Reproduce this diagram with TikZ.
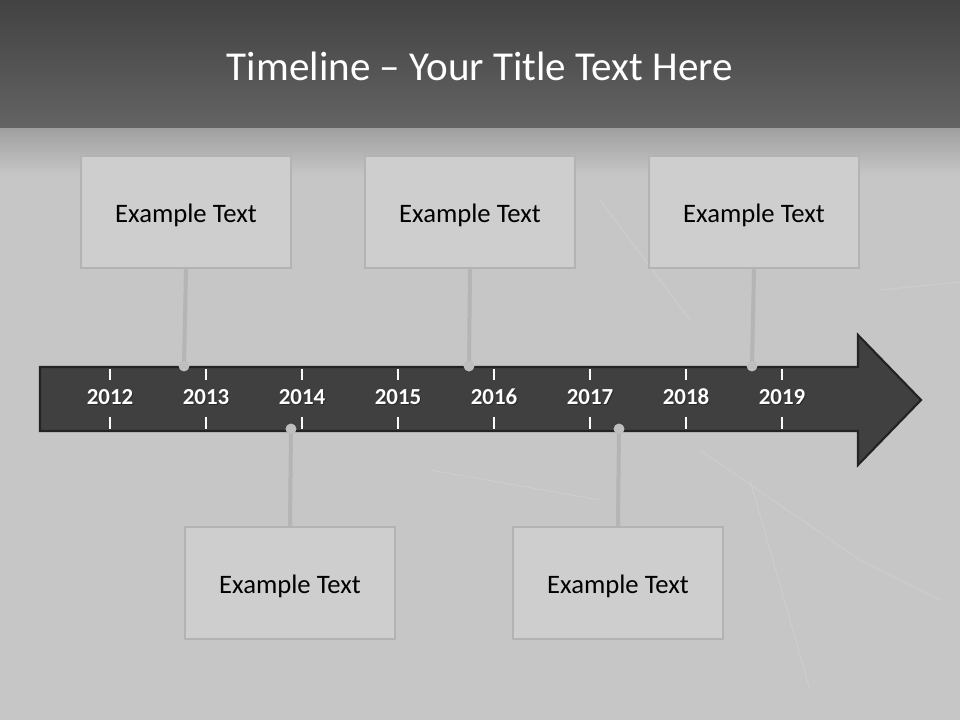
\documentclass[tikz,border=0pt]{standalone}
\usepackage{fontspec}
\setmainfont{Carlito}
\definecolor{bgray}{HTML}{C6C6C6}
\definecolor{boxfill}{HTML}{CECECE}
\definecolor{boxline}{HTML}{B3B3B3}
\definecolor{arrowfill}{HTML}{404040}
\definecolor{arrowline}{HTML}{232323}
\definecolor{conn}{HTML}{B5B5B5}
\definecolor{dotc}{HTML}{BEBEBE}
\newcommand{\boxtext}[1]{\raisebox{-2.2pt}[\height][\depth]{#1}}
\tikzset{
  ebox/.style={draw=boxline, line width=1.6pt, fill=boxfill, minimum width=157pt, minimum height=84pt, inner sep=0pt, font=\fontsize{20}{24}\selectfont, text=black},
  yearlbl/.style={font=\bfseries\fontsize{17.2}{20}\selectfont, text=white, inner sep=0pt},
  yearshadow/.style={font=\bfseries\fontsize{17.2}{20}\selectfont, text=black, opacity=0.35, inner sep=0pt},
  tick/.style={draw=white, line width=0.8pt},
  connector/.style={draw=conn, line width=3pt},
  dotnode/.style={circle, fill=dotc, minimum size=8pt, inner sep=0pt},
  crack/.style={draw=white, opacity=0.18, line width=0.5pt}
}
\begin{document}
\begin{tikzpicture}[x=0.75pt,y=-0.75pt]
\useasboundingbox (0,0) rectangle (960,720);
% background
\fill[bgray] (0,0) rectangle (960,720);
\shade[top color=bgray!60!black!70, bottom color=bgray] (0,128) rectangle (960,175);
\shade[top color=black!74, bottom color=black!61] (0,0) rectangle (960,128);
% faint cracks of the background texture
\draw[crack] (600,200) -- (690,320);
\draw[crack] (700,450) -- (860,560) -- (940,600);
\draw[crack] (430,470) -- (600,500);
\draw[crack] (750,480) -- (810,690);
\draw[crack] (880,290) -- (960,282);
% title
\node[font=\fontsize{30.8}{36}\selectfont, text=white] (title) at (480,66) {Timeline -- Your Title Text Here};
% arrow
\draw[fill=arrowfill, draw=arrowline, line width=1.6pt, line join=miter]
  (40,367) -- (858,367) -- (858,335) -- (921,400) -- (858,465) -- (858,431) -- (40,431) -- cycle;
\coordinate (arrowtip) at (921,400);
% ticks and years
\foreach \yr [count=\i from 0] in {2012,2013,2014,2015,2016,2017,2018,2019}{
  \pgfmathsetmacro{\xx}{110+96*\i}
  \draw[tick] (\xx,369) -- (\xx,380);
  \draw[tick] (\xx,417) -- (\xx,429);
  \node[yearshadow] at (\xx+1,398) {\yr};
  \node[yearlbl] (y\yr) at (\xx,397) {\yr};
}
% boxes
\node[ebox] (t1) at (186,212) {\boxtext{Example Text}};
\node[ebox] (t2) at (470,212) {\boxtext{Example Text}};
\node[ebox] (t3) at (754,212) {\boxtext{Example Text}};
\node[ebox] (b1) at (290,583) {\boxtext{Example Text}};
\node[ebox] (b2) at (618,583) {\boxtext{Example Text}};
% dots
\node[dotnode] (d1) at (184,366) {};
\node[dotnode] (d2) at (469,366) {};
\node[dotnode] (d3) at (752,366) {};
\node[dotnode] (d4) at (291,429) {};
\node[dotnode] (d5) at (619,429) {};
% connectors
\draw[connector] (t1.south) -- (d1.center);
\draw[connector] (t2.south) -- (d2.center);
\draw[connector] (t3.south) -- (d3.center);
\draw[connector] (b1.north) -- (d4.center);
\draw[connector] (b2.north) -- (d5.center);
\node[dotnode] at (d1) {};
\node[dotnode] at (d2) {};
\node[dotnode] at (d3) {};
\node[dotnode] at (d4) {};
\node[dotnode] at (d5) {};
\end{tikzpicture}
\end{document}
